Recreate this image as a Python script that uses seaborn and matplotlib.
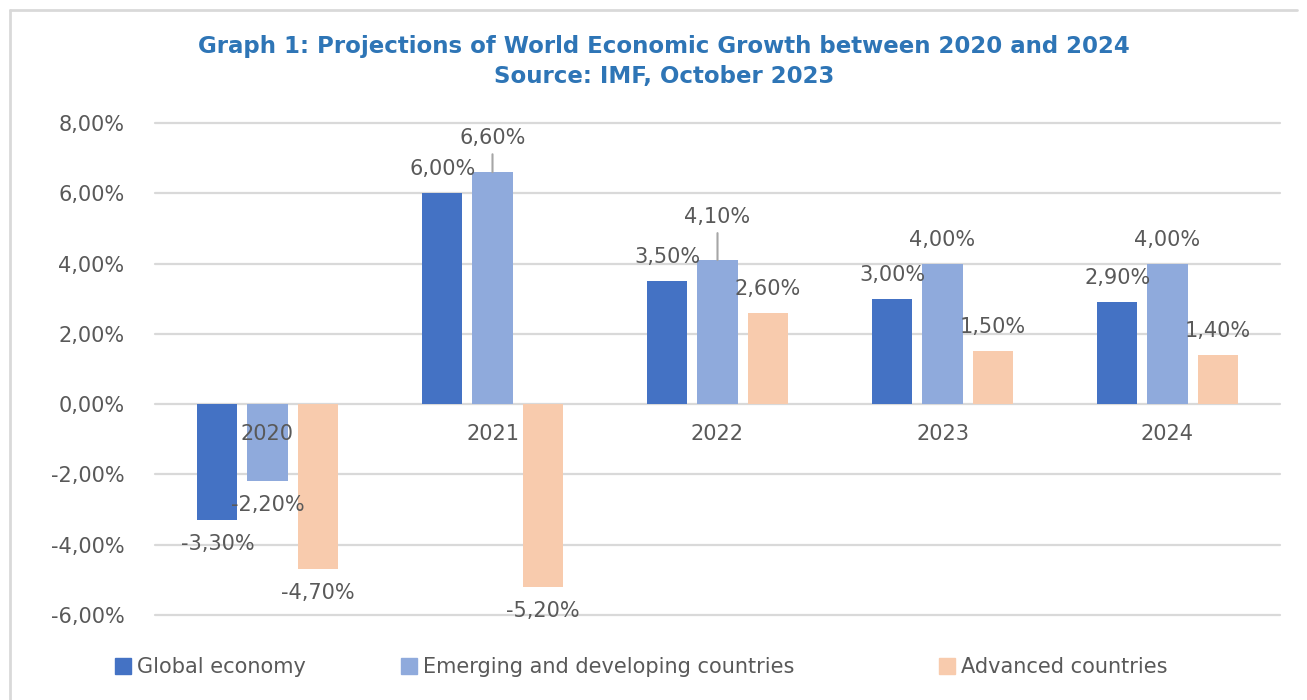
import matplotlib
matplotlib.use("Agg")
import matplotlib.pyplot as plt
import seaborn as sns
import pandas as pd
from matplotlib.lines import Line2D

# ---------------- data ----------------
years = ["2020", "2021", "2022", "2023", "2024"]
series = ["Global economy", "Emerging and developing countries", "Advanced countries"]
global_economy = [-3.3, 6.0, 3.5, 3.0, 2.9]
emerging = [-2.2, 6.6, 4.1, 4.0, 4.0]
advanced = [-4.7, -5.2, 2.6, 1.5, 1.4]
yticks = [-6, -4, -2, 0, 2, 4, 6, 8]
title_line1 = "Graph 1: Projections of World Economic Growth between 2020 and 2024"
title_line2 = "Source: IMF, October 2023"

colors = ["#4472C4", "#8FAADC", "#F8CBAD"]
text_grey = "#595959"
grid_grey = "#D9D9D9"
FS = 15

sns.set_style("white")
plt.rcParams["font.family"] = ["DejaVu Sans"]

df = pd.DataFrame({
    "Year": years * 3,
    "Series": [s for s in series for _ in years],
    "Growth": global_economy + emerging + advanced,
})

W, H = 1307, 700
fig = plt.figure(figsize=(W / 100, H / 100), dpi=100)
ax = fig.add_axes([155 / W, 85 / H, 1125 / W, 492 / H])

sns.barplot(data=df, x="Year", y="Growth", hue="Series", order=years,
            hue_order=series, palette=colors, saturation=1, width=0.667,
            gap=0.2, linewidth=0, errorbar=None, legend=False, ax=ax)

ax.set_xlim(-0.5, len(years) - 0.5)
ax.set_ylim(min(yticks), max(yticks))
ax.set_axisbelow(False)
ax.grid(False)
for t in yticks:
    ax.axhline(t, color=grid_grey, lw=1.6, zorder=0.5, clip_on=False)

ax.set_yticks(yticks)
ax.set_yticklabels([f"{t:.2f}".replace(".", ",") + "%" for t in yticks])
for s in ax.spines.values():
    s.set_visible(False)
ax.spines["bottom"].set_position(("data", 0))
ax.tick_params(axis="y", length=0, pad=22, labelsize=FS, labelcolor=text_grey)
ax.tick_params(axis="x", length=0, pad=14, labelsize=FS, labelcolor=text_grey)
ax.set_xlabel("")
ax.set_ylabel("")

# data labels: (series index, year index) -> outward offset in pixels
special_offsets = {(1, 1): 34, (1, 2): 43}
leaders = {(1, 1), (1, 2)}
for si, cont in enumerate(ax.containers):
    for yi, bar in enumerate(cont):
        h = bar.get_height()
        x = bar.get_x() + bar.get_width() / 2
        sign = 1 if h >= 0 else -1
        off = special_offsets.get((si, yi), 24)
        txt = f"{h:.2f}".replace(".", ",") + "%"
        kw = {}
        if (si, yi) in leaders:
            kw["arrowprops"] = dict(arrowstyle="-", color="#A6A6A6", lw=1.5,
                                    shrinkA=2, shrinkB=0)
        ax.annotate(txt, xy=(x, h), xytext=(0, sign * off),
                    textcoords="offset pixels", ha="center", va="center",
                    fontsize=FS, color=text_grey, annotation_clip=False,
                    zorder=5, **kw)

# title
fig.text(664 / W, 1 - 46 / H, title_line1, ha="center", va="center",
         fontsize=16.5, fontweight="bold", color="#2E75B6")
fig.text(664 / W, 1 - 76 / H, title_line2, ha="center", va="center",
         fontsize=16.5, fontweight="bold", color="#2E75B6")

# legend (one entry per position, as in the reference)
legend_left = [115, 401, 939]
for c, name, xl in zip(colors, series, legend_left):
    h = Line2D([], [], marker="s", linestyle="none", markersize=12, color=c)
    fig.legend([h], [name], loc="center left",
               bbox_to_anchor=(xl / W, 1 - 667 / H), frameon=False,
               fontsize=FS, labelcolor=text_grey, handletextpad=0.25,
               handlelength=0.8, borderpad=0, borderaxespad=0)

# chart frame
fig.add_artist(Line2D([10 / W, 10 / W], [0, 1 - 10 / H], transform=fig.transFigure,
                      color=grid_grey, lw=2))
fig.add_artist(Line2D([10 / W, 1297 / W], [1 - 10 / H, 1 - 10 / H],
                      transform=fig.transFigure, color=grid_grey, lw=2))

fig.savefig("out.png", dpi=100, facecolor="white")
